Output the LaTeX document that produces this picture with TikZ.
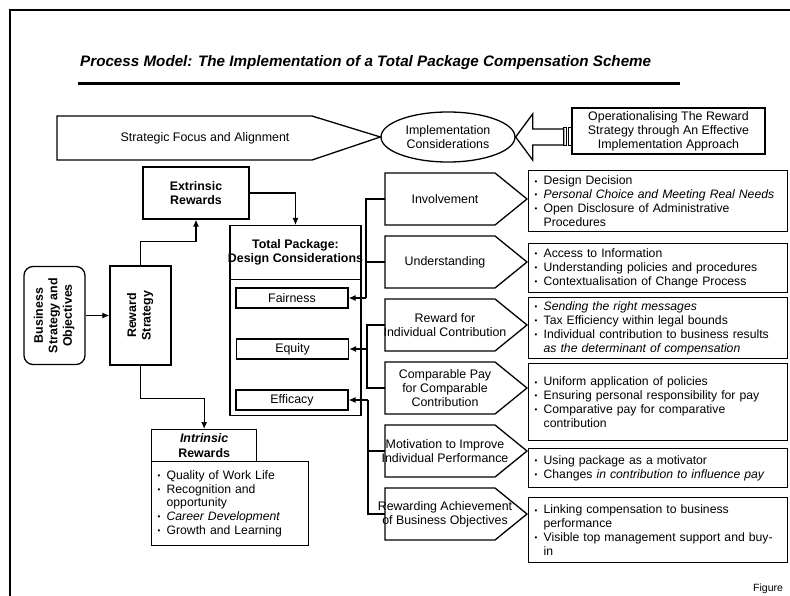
\documentclass[tikz,border=0pt]{standalone}
\usepackage{fontspec}
\setmainfont{Liberation Sans}
\usetikzlibrary{arrows.meta,shapes.geometric,calc}

\newcommand{\bl}{\makebox[9pt][l]{\raisebox{0.1ex}{\footnotesize\textbullet}}}
\newcommand{\ind}{\hspace*{9pt}}

\tikzset{
  box/.style={draw, line width=1.3pt, align=center, inner sep=1pt, font=\fontsize{12.4}{13.8}\selectfont},
  boldbox/.style={box, font=\fontsize{12.4}{14.5}\selectfont\bfseries},
  listbox/.style={draw, line width=1.3pt, align=left, anchor=north west, inner xsep=6pt, inner ysep=3pt, font=\fontsize{12.2}{13.8}\selectfont},
  rlist/.style={listbox, minimum width=259pt, text width=247pt},
  pent/.style={line width=1.3pt},
  pentlabel/.style={align=center, inner sep=0pt, font=\fontsize{12.4}{13.8}\selectfont},
  conn/.style={line width=1.2pt, -{Latex[length=7pt,width=6pt]}},
  link/.style={line width=1.2pt},
}

\begin{document}
\begin{tikzpicture}[x=1pt,y=1pt,yscale=-1]
\useasboundingbox (0,0) rectangle (790,596);

%Frame
\draw [line width=1.2pt] (10,596) -- (10,10) -- (790,10) ;

% Title
\node [anchor=base west, inner sep=0pt, font=\fontsize{15.2}{18}\selectfont\bfseries\itshape] (title) at (80,67) {Process Model: The Implementation of a Total Package Compensation Scheme};
\draw [line width=3pt] (78,84) -- (680,84) ;

%Ellipse and top band
\node [box, ellipse, minimum width=134pt, minimum height=50pt] (impl) at (448,137) {Implementation\\Considerations};
\draw [pent] (57,116) -- (312,116) -- (impl.west) -- (312,160) -- (57,160) -- cycle ;
\node [box, draw=none] (focus) at (205,138) {Strategic Focus and Alignment};
\node [box, minimum width=193pt, minimum height=46pt] (ops) at (668.5,131) {Operationalising The Reward\\Strategy through An Effective\\Implementation Approach};
%Block arrow
\draw [pent] (impl.east) -- ++(17,-23) -- ++(0,15) -- ++(31,0) -- ++(0,16) -- ++(-31,0) -- ++(0,15) -- cycle ;
\draw [line width=1pt] (563,128) rectangle (566,146) (568,128) rectangle (571,146) ;

%Left column
\node [boldbox, rounded corners=9pt, minimum width=61pt, minimum height=98pt] (biz) at (54.5,315.5) {\rotatebox{90}{\begin{tabular}{@{}c@{}}Business\\Strategy and\\Objectives\end{tabular}}};
\node [boldbox, minimum width=61pt, minimum height=99pt] (rs) at (140.5,315.5) {\rotatebox{90}{\begin{tabular}{@{}c@{}}Reward\\Strategy\end{tabular}}};
\node [boldbox, minimum width=106pt, minimum height=52pt] (ext) at (196,193) {Extrinsic\\Rewards};
\node [boldbox, minimum width=105pt, minimum height=32pt, anchor=north west] (intr) at (151,429) {\textit{Intrinsic}\\Rewards};
\node [listbox, minimum width=157pt, minimum height=84pt, text width=145pt] (intr-l) at (151,461) {\bl Quality of Work Life\\
\bl Recognition and\\
\ind opportunity\\
\bl \textit{Career Development}\\
\bl Growth and Learning};

\draw [conn] (biz) -- (rs) ;
\draw [conn] (rs.north) -- ++(0,-24) -| (ext.south) ;
\draw [conn] (rs.south) -- ++(0,33) -| (intr.north) ;

%Total package
\node [box, minimum width=131pt, minimum height=190pt, anchor=north] (tp) at (295.5,225) {};
\node [boldbox, draw=none, inner xsep=0pt, minimum height=53pt, anchor=north] (tph) at (295.5,225) {Total Package:\\Design Considerations};
\draw [link] (tp.west |- tph.south) -- (tp.east |- tph.south) ;
\node [box, minimum width=112pt, minimum height=20pt] (fair) at (292,298) {Fairness};
\node [box, minimum width=112pt, minimum height=20pt] (equity) at (292.5,349) {Equity};
\node [box, minimum width=112pt, minimum height=20pt] (eff) at (292,400) {Efficacy};
\draw [conn] (ext.east) -| (tp.north) ;

%Pentagons
\foreach \nm/\yy/\txt in {inv/199/Involvement, und/262/Understanding, rew/325/{Reward for\\Individual Contribution}, cmp/388/{Comparable Pay\\for Comparable\\Contribution}, mot/451/{Motivation to Improve\\Individual Performance}, rac/514/{Rewarding Achievement\\of Business Objectives}}{
  \draw [pent] (385,\yy-26) -- (495,\yy-26) -- (527,\yy) -- (495,\yy+26) -- (385,\yy+26) -- cycle ;
  \coordinate (\nm-w) at (385,\yy);
  \node [pentlabel] (\nm) at (445,\yy) {\txt};
}

%Lists
\node [rlist, minimum height=61pt] (inv-l) at (528,170) {\bl Design Decision\\
\bl \textit{Personal Choice and Meeting Real Needs}\\
\bl Open Disclosure of Administrative\\
\ind Procedures};
\node [rlist, minimum height=49pt] (und-l) at (528,243) {\bl Access to Information\\
\bl Understanding policies and procedures\\
\bl Contextualisation of Change Process};
\node [rlist, minimum height=61pt] (rew-l) at (528,297) {\bl \textit{Sending the right messages}\\
\bl Tax Efficiency within legal bounds\\
\bl Individual contribution to business results\\
\ind \textit{as the determinant of compensation}};
\node [rlist, minimum height=77pt] (cmp-l) at (528,363) {\bl Uniform application of policies\\
\bl Ensuring personal responsibility for pay\\
\bl Comparative pay for comparative\\
\ind contribution};
\node [rlist, minimum height=39pt] (mot-l) at (528,448) {\bl Using package as a motivator\\
\bl Changes \textit{in contribution to influence pay}};
\node [rlist, minimum height=65pt] (rac-l) at (528,497) {\bl Linking compensation to business\\
\ind performance\\
\bl Visible top management support and buy-\\
\ind in};

%Connectors to design considerations
\coordinate (j1) at (366,298);
\coordinate (j2) at (367,349);
\coordinate (j3) at (368,400);
\draw [link] (inv-w) -| (j1) ;
\draw [link] (und-w) -- (und-w -| j1) ;
\draw [conn] (j1) -- (fair.east) ;
\draw [link] (rew-w) -| (cmp-w -| j2) -- (cmp-w) ;
\draw [conn] (j2) -- (equity.east) ;
\draw [link] (j3) |- (rac-w) ;
\draw [link] (mot-w) -- (mot-w -| j3) ;
\draw [conn] (j3) -- (eff.east) ;

% Text Node
\node [anchor=base west, inner sep=0pt, font=\fontsize{10.5}{12}\selectfont] (fig) at (753,591) {Figure};

\end{tikzpicture}
\end{document}
